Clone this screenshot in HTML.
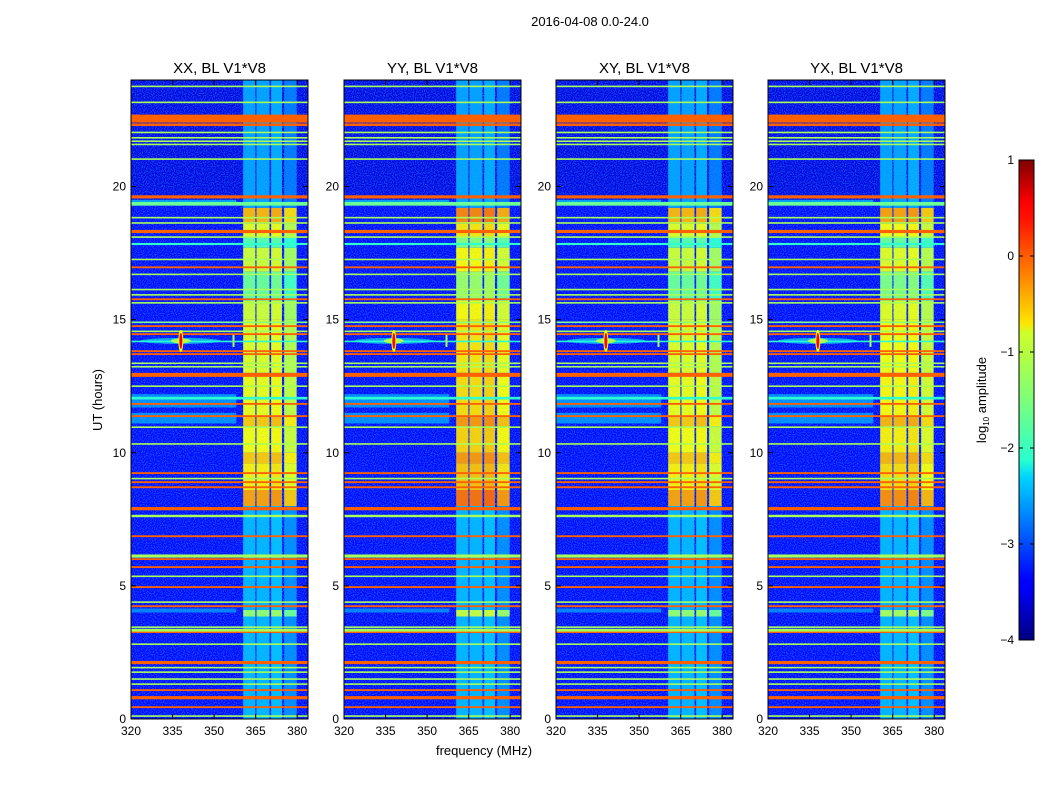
<!DOCTYPE html>
<html><head><meta charset="utf-8">
<style>
html,body{margin:0;padding:0;background:#fff;}
svg{display:block;font-family:"Liberation Sans",sans-serif;}
</style></head>
<body>
<svg id="fig" width="1050" height="800" viewBox="0 0 1050 800" xmlns="http://www.w3.org/2000/svg">
<defs>
<filter id="noise" x="0" y="0" width="100%" height="100%">
<feTurbulence type="fractalNoise" baseFrequency="0.9" numOctaves="1" seed="3"/>
<feColorMatrix type="matrix" values="0 0 0 0 0.05  0 0 0 0 0.55  0 0 0 0 1  0 0 0 -2.2 1.35"/>
</filter>
<linearGradient id="jetgrad" x1="0" y1="1" x2="0" y2="0">
<stop offset="0" stop-color="#00007f"/><stop offset="0.11" stop-color="#0000ff"/>
<stop offset="0.125" stop-color="#0000ff"/><stop offset="0.34" stop-color="#00d4ff"/>
<stop offset="0.375" stop-color="#29ffce"/><stop offset="0.5" stop-color="#7dff7a"/>
<stop offset="0.64" stop-color="#ceff29"/><stop offset="0.66" stop-color="#ffe500"/>
<stop offset="0.875" stop-color="#ff1400"/><stop offset="0.91" stop-color="#ff0000"/>
<stop offset="1" stop-color="#7f0000"/>
</linearGradient>
</defs>
<text x="590" y="26" font-size="13" text-anchor="middle">2016-04-08 0.0-24.0</text>
<text transform="translate(102,400) rotate(-90)" font-size="13" text-anchor="middle">UT (hours)</text>
<text x="484" y="755" font-size="13" text-anchor="middle">frequency (MHz)</text>
<g id="panels"></g>
<g id="cbar"></g>
</svg>
<script>
// ---- data ----
const panelTitles = ["XX, BL V1*V8","YY, BL V1*V8","XY, BL V1*V8","YX, BL V1*V8"];
const panelBoost = [0, 0.25, 0, 0.1];
const xTicks = [320,335,350,365,380];
const yTicks = [0,5,10,15,20];
const cbarTicks = [1,0,-1,-2,-3,-4];
// horizontal RFI lines: start hour, duration (hours), log10 amplitude
const lineStart = [23.73,23.13,22.4,22.27,22.0,21.8,21.67,21.55,21.0,19.55,19.28,18.8,18.6,18.25,18.07,17.8,17.23,16.93,16.67,16.1,15.9,15.73,15.6,14.87,14.72,14.53,14.42,14.15,13.78,13.67,13.33,13.2,12.85,12.47,12.0,11.8,11.34,10.93,10.3,9.2,9.0,8.86,8.67,7.84,7.58,6.83,6.06,5.97,5.67,5.33,4.92,4.36,4.2,3.42,3.27,3.23,2.78,2.06,1.9,1.73,1.47,1.28,1.05,0.74,0.41,0.08];
const lineDur   = [0.06,0.06,0.3,0.1,0.06,0.06,0.06,0.06,0.06,0.12,0.14,0.06,0.06,0.12,0.06,0.08,0.06,0.07,0.06,0.06,0.06,0.07,0.06,0.06,0.07,0.06,0.07,0.06,0.07,0.07,0.06,0.06,0.15,0.06,0.1,0.07,0.07,0.06,0.06,0.07,0.06,0.07,0.07,0.12,0.09,0.07,0.12,0.07,0.07,0.06,0.07,0.06,0.07,0.06,0.12,0.05,0.06,0.12,0.06,0.06,0.06,0.06,0.07,0.12,0.07,0.06];
const lineLevel = [-1.3,-1.3,-0.1,-0.1,-1.3,-1.3,-1.3,-1.3,-1.3,-0.1,-1.6,-1.3,-1.3,-0.1,-1.3,-1.9,-1.3,-0.1,-1.3,-1.3,-1.3,-0.1,-1.3,-1.5,-0.1,-1.3,-0.1,-1.9,-0.1,-0.1,-1.3,-1.3,-0.1,-1.3,-1.9,-0.1,-0.1,-1.3,-1.3,-0.1,-1.3,-0.1,-0.1,-0.1,-1.3,-0.1,-1.3,-0.1,-0.1,-1.3,-0.1,-1.3,-0.1,-1.3,-1.3,-0.1,-1.3,-0.1,-1.3,-1.3,-1.3,-1.3,-0.1,-0.1,-0.1,-1.3];
// broad diffuse bands (hour start, end, level)
const diffStart = [11.1, 11.7, 4.0, 19.3];
const diffEnd   = [11.5, 12.2, 4.15, 19.5];
const diffLevel = [-2.3, -2.3, -2.4, -2.2];
// RFI band columns (MHz)
const colStart = [360.5, 365.3, 370.6, 375.3];
const colEnd   = [364.9, 370.0, 374.5, 379.8];
const colOffset = [0, 0, 0.05, -0.2];
// band intensity vs time
const segStart = [0, 3.85, 4.1, 8.0, 8.6, 9.6, 10.0, 11.0, 11.4, 12.9, 13.0, 15.0, 15.7, 16.8, 17.7, 18.1, 18.6, 19.2];
const segEnd   = [3.85, 4.1, 8.0, 8.6, 9.6, 10.0, 11.0, 11.4, 12.9, 13.0, 15.0, 15.7, 16.8, 17.7, 18.1, 18.6, 19.2, 24];
const segLevel = [-2.5, -1.4, -2.5, -0.4, -0.8, -0.6, -0.9, -0.6, -0.95, -0.4, -1.0, -1.1, -1.6, -1.1, -1.7, -1.0, -0.5, -2.6];
// narrowband spike
const spikeFreq = [338, 357];
const spikeTime = [14.2, 14.2];

// ---- helpers ----
const NS = "http://www.w3.org/2000/svg";
const panelX = [131,344,556,768], PW = 177, PT = 80, PB = 719;
const fMin = 320, fMax = 383.9, tMin = 0, tMax = 24;
function jet(v){ // v log amplitude -4..1
  let x = Math.max(0, Math.min(1, (v + 4) / 5));
  const c = k => Math.round(255 * Math.max(0, Math.min(1, 1.5 - Math.abs(4 * x - k))));
  return `rgb(${c(3)},${c(2)},${c(1)})`;
}
function mk(tag, attrs, parent){
  const e = document.createElementNS(NS, tag);
  for (const k in attrs) e.setAttribute(k, attrs[k]);
  parent.appendChild(e); return e;
}
const yScale = t => PB - (t - tMin) / (tMax - tMin) * (PB - PT);

const panels = document.getElementById('panels');
panelTitles.forEach((title, p) => {
  const x0 = panelX[p];
  const xScale = f => x0 + (f - fMin) / (fMax - fMin) * PW;
  const g = mk('g', {}, panels);
  
  
  const cid = 'clip' + p;
  const cp = mk('clipPath', {id: cid}, g);
  mk('rect', {x: x0, y: PT, width: PW, height: PB - PT}, cp);
  const body = mk('g', {'clip-path': `url(#${cid})`}, g);
  const bg = mk('rect', {x: x0, y: PT, width: PW, height: PB - PT, fill: jet(-3.35)}, body);
  
  
  mk('rect', {x: x0, y: yScale(24), width: PW, height: yScale(19.5) - yScale(24), fill: jet(-3.6), opacity: 0.6}, body);
  mk('rect', {x: x0, y: PT, width: PW, height: PB - PT, filter: 'url(#noise)', opacity: 0.55}, body);
  diffStart.forEach((s, i) => {
    const r = mk('rect', {x: x0, y: yScale(diffEnd[i]), width: xScale(358) - x0, height: yScale(s) - yScale(diffEnd[i]), fill: jet(diffLevel[i]), opacity: 0.6}, body);
    
    
  });
  colStart.forEach((cs, c) => {
    segStart.forEach((ss, s) => {
      let lv = segLevel[s] + colOffset[c];
      if (lv > -2) lv += panelBoost[p];
      const r = mk('rect', {x: xScale(cs), y: yScale(segEnd[s]), width: xScale(colEnd[c]) - xScale(cs), height: yScale(ss) - yScale(segEnd[s]), fill: jet(lv)}, body);
      
      
    });
  });
  mk('rect', {x: xScale(360.5), y: PT, width: xScale(379.8) - xScale(360.5), height: PB - PT, filter: 'url(#noise)', opacity: 0.3}, body);
  lineStart.forEach((s, i) => {
    const r = mk('rect', {x: x0, y: yScale(s + lineDur[i]), width: PW, height: Math.max(1.2, yScale(s) - yScale(s + lineDur[i])), fill: jet(lineLevel[i])}, body);
    
    
  });
  spikeFreq.forEach((f, i) => {
    const cx = xScale(f), cy = yScale(spikeTime[i]);
    if (i === 0) {
      mk('ellipse', {cx: cx, cy: cy, rx: 40, ry: 3, fill: jet(-2.0), opacity: 0.6}, body);
      mk('ellipse', {cx: cx, cy: cy, rx: 10, ry: 2.5, fill: jet(-1.3)}, body);
      mk('ellipse', {cx: cx, cy: cy, rx: 2.5, ry: 11, fill: jet(-0.9)}, body);
      const s = mk('ellipse', {cx: cx, cy: cy, rx: 1.5, ry: 8, fill: jet(0.4)}, body);
      
      
    } else {
      const s = mk('rect', {x: cx - 1, y: cy - 6, width: 2, height: 12, fill: jet(-1.3)}, body);
      
      
    }
  });
  mk('rect', {x: x0, y: PT, width: PW, height: PB - PT, fill: 'none', stroke: '#000', 'stroke-width': 1}, g);
  const tt = mk('text', {x: x0 + PW / 2, y: 73, 'font-size': 15, 'text-anchor': 'middle'}, g);
  tt.textContent = title;
  
  
  xTicks.forEach(v => {
    const x = xScale(v);
    mk('line', {x1: x, x2: x, y1: PB, y2: PB - 5, stroke: '#000'}, g);
    mk('line', {x1: x, x2: x, y1: PT, y2: PT + 5, stroke: '#000'}, g);
    const t = mk('text', {x: x, y: PB + 16, 'font-size': 12, 'text-anchor': 'middle'}, g);
    t.textContent = v;
    
    
  });
  yTicks.forEach(v => {
    const y = yScale(v);
    mk('line', {x1: x0, x2: x0 + 5, y1: y, y2: y, stroke: '#000'}, g);
    mk('line', {x1: x0 + PW, x2: x0 + PW - 5, y1: y, y2: y, stroke: '#000'}, g);
    const t = mk('text', {x: x0 - 5, y: y + 4, 'font-size': 12, 'text-anchor': 'end'}, g);
    t.textContent = v;
    
    
  });
});

const cb = document.getElementById('cbar');
const cbX = 1019, cbW = 15, cbT = 160, cbB = 640;
mk('rect', {x: cbX, y: cbT, width: cbW, height: cbB - cbT, fill: 'url(#jetgrad)', stroke: '#000'}, cb);
cbarTicks.forEach(v => {
  const y = cbB - (v + 4) / 5 * (cbB - cbT);
  mk('line', {x1: cbX, x2: cbX + 4, y1: y, y2: y, stroke: '#000'}, cb);
  mk('line', {x1: cbX + cbW, x2: cbX + cbW - 4, y1: y, y2: y, stroke: '#000'}, cb);
  const t = mk('text', {x: cbX - 5, y: y + 4, 'font-size': 12, 'text-anchor': 'end'}, cb);
  t.textContent = v < 0 ? '\u2212' + (-v) : v;
  
  
});
const cl = mk('text', {transform: 'translate(986,400) rotate(-90)', 'font-size': 13, 'text-anchor': 'middle'}, cb);
cl.innerHTML = 'log<tspan font-size="8" dy="3">10</tspan><tspan dy="-3"> amplitude</tspan>';


</script>
</body></html>
